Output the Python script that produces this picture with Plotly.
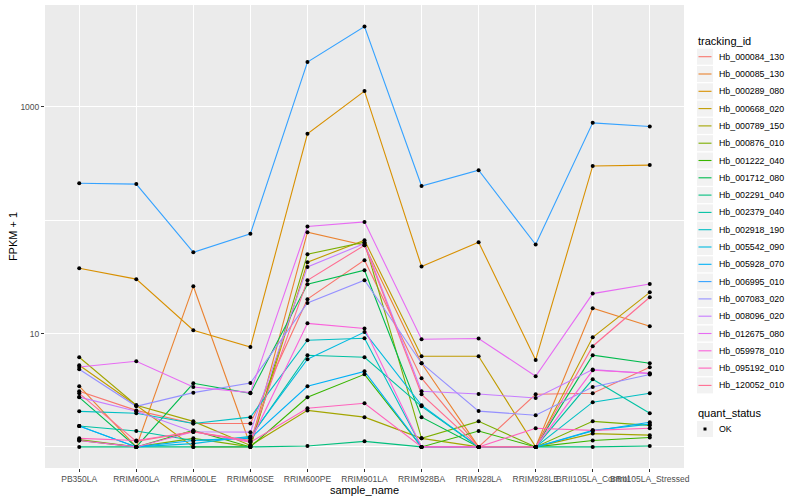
import plotly.graph_objects as go

samples = ["PB350LA", "RRIM600LA", "RRIM600LE", "RRIM600SE", "RRIM600PE", "RRIM901LA",
           "RRIM928BA", "RRIM928LA", "RRIM928LE", "BRII105LA_Control", "BRII105LA_Stressed"]

tracking_ids = ["Hb_000084_130", "Hb_000085_130", "Hb_000289_080", "Hb_000668_020", "Hb_000789_150",
                "Hb_000876_010", "Hb_001222_040", "Hb_001712_080", "Hb_002291_040", "Hb_002379_040",
                "Hb_002918_190", "Hb_005542_090", "Hb_005928_070", "Hb_006995_010", "Hb_007083_020",
                "Hb_008096_020", "Hb_012675_080", "Hb_059978_010", "Hb_095192_010", "Hb_120052_010"]

quant_status = ["OK"]

# FPKM + 1 values per gene, in sample order
Hb_000084_130 = [3.10, 2.10, 1.61, 1.61, 20.1, 44.4, 4.04, 1.0, 2.91, 2.97, 5.05]
Hb_000085_130 = [3.43, 1.0, 26.1, 1.03, 78.3, 60.1, 5.47, 1.0, 1.0, 16.7, 11.6]
Hb_000289_080 = [37.7, 30.2, 10.7, 7.6, 578, 1376, 39.0, 64, 5.85, 301, 306]
Hb_000668_020 = [5.25, 2.33, 1.0, 1.0, 42.6, 66.6, 6.31, 6.31, 1.0, 9.27, 23.1]
Hb_000789_150 = [6.18, 2.33, 1.68, 1.03, 2.10, 1.83, 1.19, 1.0, 1.0, 1.31, 1.27]
Hb_000876_010 = [1.16, 1.0, 1.19, 1.0, 50.1, 64, 1.19, 1.68, 1.0, 1.68, 1.55]
Hb_001222_040 = [1.14, 1.0, 1.40, 1.0, 2.74, 4.37, 1.0, 1.38, 1.0, 1.14, 1.21]
Hb_001712_080 = [2.74, 1.0, 3.64, 2.97, 27.2, 36.2, 1.83, 1.0, 1.0, 6.44, 5.47]
Hb_002291_040 = [1.0, 1.0, 1.0, 1.0, 1.02, 1.12, 1.0, 1.0, 1.0, 1.0, 1.02]
Hb_002379_040 = [1.53, 1.38, 1.14, 1.21, 6.44, 6.18, 2.28, 1.0, 1.0, 3.95, 1.98]
Hb_002918_190 = [2.06, 1.98, 1.61, 1.83, 8.73, 9.09, 1.0, 1.0, 1.0, 2.48, 2.97]
Hb_005542_090 = [1.53, 1.0, 1.07, 1.24, 5.93, 10.3, 2.33, 1.0, 1.0, 1.40, 1.59]
Hb_005928_070 = [1.53, 1.0, 1.14, 1.19, 3.43, 4.64, 1.0, 1.0, 1.0, 1.38, 1.65]
Hb_006995_010 = [212, 208, 52, 76, 2480, 5100, 200, 276, 61, 722, 671]
Hb_007083_020 = [4.84, 2.28, 3.01, 3.66, 18.6, 29.5, 5.47, 2.07, 1.90, 3.38, 4.35]
Hb_008096_020 = [2.75, 2.06, 1.36, 1.35, 38.7, 62.2, 3.10, 2.93, 2.70, 4.81, 4.43]
Hb_012675_080 = [5.07, 5.70, 3.38, 3.01, 87.9, 96.6, 8.91, 9.04, 4.20, 22.5, 27.4]
Hb_059978_010 = [1.14, 1.0, 1.36, 1.12, 12.3, 11.1, 1.0, 1.0, 1.0, 4.74, 4.46]
Hb_095192_010 = [1.19, 1.14, 1.36, 1.10, 2.19, 2.43, 1.0, 1.0, 1.46, 1.40, 1.46]
Hb_120052_010 = [2.97, 1.12, 1.36, 1.14, 29.5, 60.1, 2.91, 1.0, 1.0, 7.73, 20.9]

series = [Hb_000084_130, Hb_000085_130, Hb_000289_080, Hb_000668_020, Hb_000789_150,
          Hb_000876_010, Hb_001222_040, Hb_001712_080, Hb_002291_040, Hb_002379_040,
          Hb_002918_190, Hb_005542_090, Hb_005928_070, Hb_006995_010, Hb_007083_020,
          Hb_008096_020, Hb_012675_080, Hb_059978_010, Hb_095192_010, Hb_120052_010]

colors = ["#F8766D", "#EA8331", "#D89000", "#C09B00", "#A3A500", "#7CAE00", "#39B600", "#00BB4E",
          "#00BF7D", "#00C1A3", "#00BFC4", "#00BAE0", "#00B0F6", "#35A2FF", "#9590FF", "#C77CFF",
          "#E76BF3", "#FA62DB", "#FF62BC", "#FF6C91"]

FONT = "Liberation Sans, Arial, Helvetica, sans-serif"
W, H = 800, 500
L, R, T, B = 45, 684, 5, 468   # plot panel in pixels


def px(x):
    return (x - L) / (R - L)


def py(y):
    return (B - y) / (B - T)


fig = go.Figure()
for name, vals, col in zip(tracking_ids, series, colors):
    fig.add_trace(go.Scatter(x=samples, y=vals, mode="lines", name=name,
                             line=dict(color=col, width=1.1), showlegend=False))

all_x, all_y = [], []
for vals in series:
    all_x += samples
    all_y += vals
fig.add_trace(go.Scatter(x=all_x, y=all_y, mode="markers", name=quant_status[0],
                         marker=dict(color="black", size=4, symbol="circle"),
                         showlegend=False))

# ggplot-style legends (keys + labels)
shapes, annotations = [], []
annotations.append(dict(text="tracking_id", x=px(696), y=py(41), xref="paper", yref="paper",
                        xanchor="left", yanchor="middle", showarrow=False,
                        font=dict(size=11, family=FONT, color="black")))
for i, (name, col) in enumerate(zip(tracking_ids, colors)):
    yc = 56.7 + 17.3 * i
    shapes.append(dict(type="rect", xref="paper", yref="paper",
                       x0=px(697), x1=px(713), y0=py(yc - 8), y1=py(yc + 8),
                       fillcolor="#F2F2F2", line=dict(width=0), layer="above"))
    shapes.append(dict(type="line", xref="paper", yref="paper",
                       x0=px(698.5), x1=px(711.5), y0=py(yc), y1=py(yc),
                       line=dict(color=col, width=1.1), layer="above"))
    annotations.append(dict(text=name, x=px(716.5), y=py(yc), xref="paper", yref="paper",
                            xanchor="left", yanchor="middle", showarrow=False,
                            font=dict(size=8.8, family=FONT, color="black")))

annotations.append(dict(text="quant_status", x=px(696), y=py(412.5), xref="paper", yref="paper",
                        xanchor="left", yanchor="middle", showarrow=False,
                        font=dict(size=11, family=FONT, color="black")))
yc = 429
shapes.append(dict(type="rect", xref="paper", yref="paper",
                   x0=px(697), x1=px(713), y0=py(yc - 8), y1=py(yc + 8),
                   fillcolor="#F2F2F2", line=dict(width=0), layer="above"))
shapes.append(dict(type="rect", xref="paper", yref="paper",
                   x0=px(703.5), x1=px(706.5), y0=py(yc - 1.5), y1=py(yc + 1.5),
                   fillcolor="black", line=dict(width=0), layer="above"))
annotations.append(dict(text=quant_status[0], x=px(716.5), y=py(yc), xref="paper", yref="paper",
                        xanchor="left", yanchor="middle", showarrow=False,
                        font=dict(size=8.8, family=FONT, color="black")))

fig.update_layout(
    width=W, height=H,
    margin=dict(l=L, r=W - R, t=T, b=H - B, autoexpand=False),
    paper_bgcolor="white", plot_bgcolor="#EBEBEB",
    font=dict(family=FONT, size=9, color="black"),
    showlegend=False,
    shapes=shapes, annotations=annotations,
    xaxis=dict(type="category", categoryorder="array", categoryarray=samples,
               range=[-0.6, 10.6], tickangle=0, automargin=False,
               showgrid=True, gridcolor="white", gridwidth=1.1,
               ticks="outside", ticklen=3, tickcolor="#333333", tickwidth=1,
               tickfont=dict(size=8.5, color="#4D4D4D", family=FONT),
               title=dict(text="sample_name", font=dict(size=11, family=FONT), standoff=1),
               zeroline=False, showline=False),
    yaxis=dict(type="log", range=[-0.186, 3.898], automargin=False,
               tickvals=[10, 1000], ticktext=["10", "1000"],
               showgrid=True, gridcolor="white", gridwidth=1.1,
               minor=dict(tickvals=[1, 100, 10000], showgrid=True, gridcolor="white",
                          gridwidth=0.55, ticks=""),
               ticks="outside", ticklen=3, tickcolor="#333333", tickwidth=1,
               tickfont=dict(size=8.5, color="#4D4D4D", family=FONT),
               title=dict(text="FPKM + 1", font=dict(size=11, family=FONT), standoff=0),
               zeroline=False, showline=False),
)

fig.write_html("out.html", config={"displayModeBar": False},
               post_script="document.body.style.margin='0px';document.body.style.overflow='hidden';")
